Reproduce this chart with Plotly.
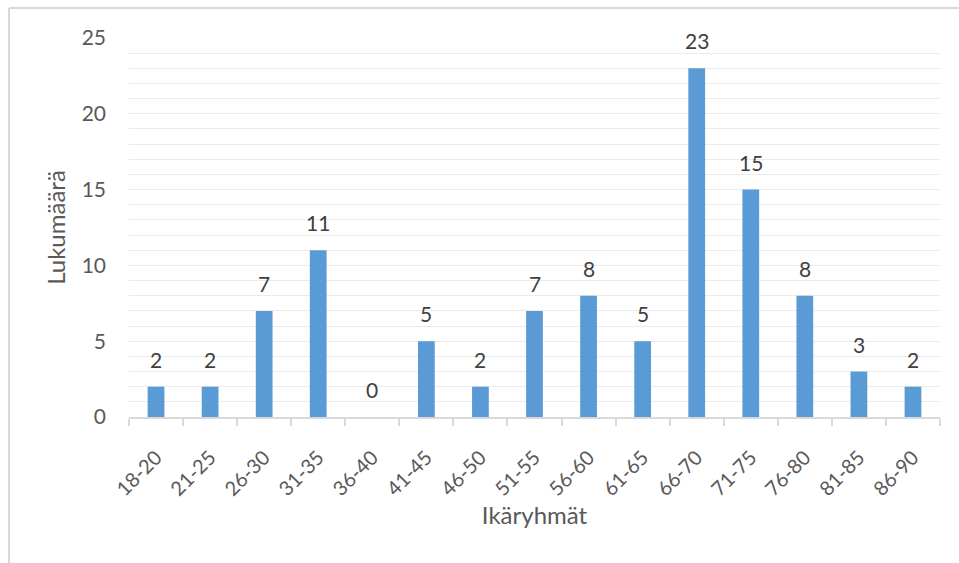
import plotly.graph_objects as go

categories = ["18-20", "21-25", "26-30", "31-35", "36-40", "41-45", "46-50", "51-55",
              "56-60", "61-65", "66-70", "71-75", "76-80", "81-85", "86-90"]
counts = [2, 2, 7, 11, 0, 5, 2, 7, 8, 5, 23, 15, 8, 3, 2]
y_ticks = [0, 5, 10, 15, 20, 25]

W, H = 959, 563
L, R, T, B = 129, 19, 38, 146
pw, ph = W - L - R, H - T - B
FONT = "Lato"

def px(x):
    return (x - L) / pw

def py(y):
    return (H - B - y) / ph

fig = go.Figure(go.Bar(
    x=categories, y=counts,
    marker=dict(color="#5B9BD5", line=dict(width=0)),
    width=0.31, hoverinfo="x+y",
))

for c, v in zip(categories, counts):
    fig.add_annotation(x=c, y=v, text=str(v), showarrow=False,
                       yanchor="bottom", yshift=13,
                       font=dict(size=21, color="#404040", family=FONT))

fig.update_layout(
    width=W, height=H,
    margin=dict(l=L, r=R, t=T, b=B),
    paper_bgcolor="white", plot_bgcolor="white",
    font=dict(family=FONT, color="#595959"),
    showlegend=False,
    xaxis=dict(
        type="category", tickangle=-45,
        tickfont=dict(size=20, color="#595959"),
        showline=True, linecolor="#d9d9d9", linewidth=2,
        ticks="outside", tickson="boundaries", ticklen=7, tickcolor="#d9d9d9", tickwidth=2,
        ticklabelstandoff=19,
        showgrid=False,
        title=dict(text="Ikäryhmät", font=dict(size=24, color="#595959"), standoff=4),
    ),
    yaxis=dict(
        range=[0, 25], tickvals=y_ticks,
        tickfont=dict(size=21, color="#595959"),
        showgrid=True, gridcolor="#ebebeb", gridwidth=1,
        minor=dict(dtick=1, showgrid=True, gridcolor="#ebebeb", gridwidth=1),
        zeroline=False, showline=False, ticks="", ticklabelstandoff=22,
        title=dict(text="Lukumäärä", font=dict(size=24, color="#595959"), standoff=9),
    ),
    shapes=[
        dict(type="line", xref="paper", yref="paper", x0=px(9), x1=px(959), y0=py(8), y1=py(8),
             line=dict(color="#d9d9d9", width=2)),
        dict(type="line", xref="paper", yref="paper", x0=px(9), x1=px(9), y0=py(8), y1=py(563),
             line=dict(color="#d9d9d9", width=2)),
    ],
)

fig.write_html("out.html")
